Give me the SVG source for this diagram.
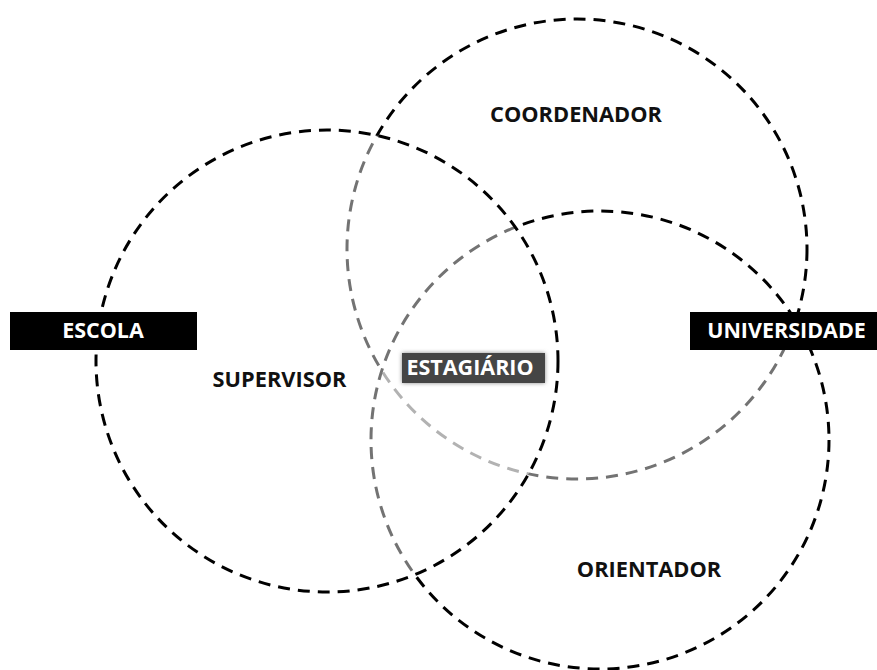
<svg xmlns="http://www.w3.org/2000/svg" width="877" height="670" viewBox="0 0 877 670">
  <defs>
    <style>
      .ring { stroke: #000; stroke-width: 3; stroke-dasharray: 12 8; }
      .veil { fill: #fff; fill-opacity: 0.45; }
      .role { font-family: "Open Sans", "Liberation Sans", sans-serif; font-weight: 700; font-size: 21.8px; fill: #111; text-anchor: middle; }
      .tag { fill: #000; }
      .tagtext { font-family: "Open Sans", "Liberation Sans", sans-serif; font-weight: 700; font-size: 21.5px; fill: #fff; text-anchor: middle; }
    </style>
    <filter id="glow" x="-20%" y="-40%" width="140%" height="180%">
      <feGaussianBlur in="SourceAlpha" stdDeviation="2.5"/>
      <feFlood flood-color="#888"/>
      <feComposite operator="in" in2="SourceAlpha"/>
      <feGaussianBlur stdDeviation="2"/>
      <feMerge>
        <feMergeNode/>
        <feMergeNode in="SourceGraphic"/>
      </feMerge>
    </filter>
  </defs>
  <rect width="877" height="670" fill="#fff"/>

  <!-- rings: coordenador at the back, orientador over it, supervisor on top -->
  <g id="connectors">
    <circle id="ring-coordenador" class="ring" cx="577" cy="249" r="230" fill="none"/>
    <circle id="ring-orientador" class="ring veil" cx="600" cy="440" r="229"/>
    <circle id="ring-supervisor" class="ring veil" cx="327" cy="361" r="231"/>
  </g>

  <g id="coordenador">
    <text class="role" x="576" y="122">COORDENADOR</text>
  </g>
  <g id="supervisor">
    <text class="role" x="279.5" y="387">SUPERVISOR</text>
  </g>
  <g id="orientador">
    <text class="role" x="649" y="577">ORIENTADOR</text>
  </g>

  <g id="escola">
    <rect class="tag" x="10" y="312" width="187" height="38"/>
    <text class="tagtext" x="103" y="338">ESCOLA</text>
  </g>
  <g id="universidade">
    <rect class="tag" x="690" y="312" width="187" height="38"/>
    <text class="tagtext" x="786.5" y="338">UNIVERSIDADE</text>
  </g>
  <g id="estagiario">
    <rect x="402" y="353" width="143" height="30" fill="#444" filter="url(#glow)"/>
    <text class="tagtext" x="470" y="375" font-size="18.6">ESTAGIÁRIO</text>
  </g>
</svg>
